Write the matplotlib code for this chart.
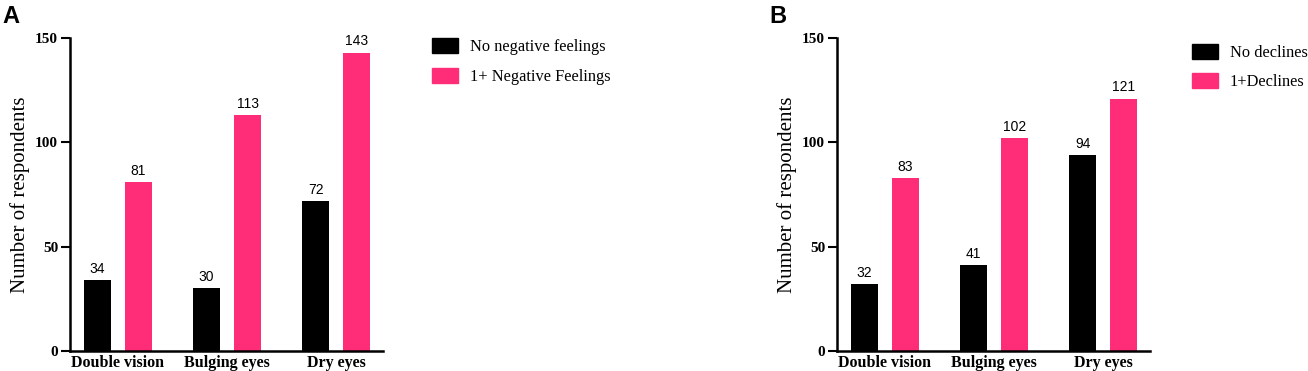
import matplotlib
matplotlib.use("Agg")
import matplotlib.pyplot as plt
import numpy as np
from matplotlib.patches import Patch

categories = ["Double vision", "Bulging eyes", "Dry eyes"]
a_none = [34, 30, 72]
a_neg = [81, 113, 143]
b_none = [32, 41, 94]
b_dec = [83, 102, 121]
a_labels = ["No negative feelings", "1+ Negative Feelings"]
b_labels = ["No declines", "1+Declines"]
yticks = [0, 50, 100, 150]

BLACK = "#000000"
PINK = "#FF2D78"
W = 1308
H = 371

fig = plt.figure(figsize=(W / 100, H / 100), dpi=100)


def px_axes(x0, x1, y0, y1):
    return fig.add_axes([x0 / W, 1 - y1 / H, (x1 - x0) / W, (y1 - y0) / H])


def panel(ax, s1, s2, labels, leg_x, leg_y, letter, letter_x, spacing):
    x = np.arange(len(categories))
    off = 0.188
    w = 0.25
    b1 = ax.bar(x - off, s1, w, color=BLACK, label=labels[0])
    b2 = ax.bar(x + off, s2, w, color=PINK, label=labels[1])
    for bars, vals in ((b1, s1), (b2, s2)):
        for r, v in zip(bars, vals):
            ax.annotate(str(v), (r.get_x() + r.get_width() / 2, v),
                        xytext=(0, 3), textcoords="offset points",
                        ha="center", va="bottom", fontsize=10,
                        family="Liberation Sans")
    ax.set_ylim(0, 150)
    ax.set_xlim(-0.44, 2.43)
    ax.set_yticks(yticks)
    ax.set_yticklabels([str(t) for t in yticks], family="Liberation Serif",
                       fontweight="bold", fontsize=11)
    ax.set_xticks(x)
    ax.set_xticklabels(categories, family="Liberation Serif",
                       fontweight="bold", fontsize=11.5)
    ax.tick_params(axis="x", length=0, pad=3)
    ax.tick_params(axis="y", length=6.5, width=1.5, pad=2)
    for s in ("top", "right"):
        ax.spines[s].set_visible(False)
    for s in ("left", "bottom"):
        ax.spines[s].set_linewidth(1.8)
    ax.set_ylabel("Number of respondents", family="Liberation Serif",
                  fontsize=15, labelpad=4)
    handles = [Patch(color=BLACK), Patch(color=PINK)]
    fig.legend(handles, labels, loc="upper left",
               bbox_to_anchor=(leg_x / W, 1 - leg_y / H), frameon=False,
               prop={"family": "Liberation Serif", "size": 11.75},
               handlelength=1.6, handleheight=1.0, labelspacing=spacing,
               handletextpad=0.7, borderaxespad=0, borderpad=0)
    fig.text(letter_x / W, 1 - 5 / H, letter, family="Liberation Sans",
             fontweight="bold", fontsize=17, va="top", ha="left")


axA = px_axes(70, 383, 38, 351)
panel(axA, a_none, a_neg, a_labels, 432, 38, "A", 2, 0.8)
axB = px_axes(837, 1150, 38, 351)
panel(axB, b_none, b_dec, b_labels, 1192, 44, "B", 769, 0.75)

fig.savefig("out.png", dpi=100)
